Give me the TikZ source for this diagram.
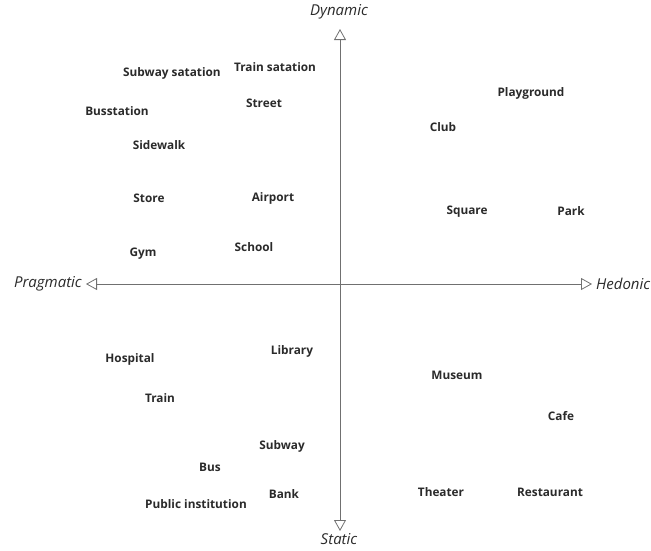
\documentclass[tikz,border=0pt]{standalone}
\usepackage{fontspec}
\setmainfont{Open Sans}
\usetikzlibrary{arrows.meta}
\definecolor{txt}{HTML}{2A2A2A}
\definecolor{axis}{HTML}{707070}
\tikzset{
  place/.style={font=\fontsize{11.8}{13}\selectfont\bfseries, text=txt, inner sep=0pt},
  axlabel/.style={font=\fontsize{15}{17}\selectfont\itshape, text=txt, inner sep=0pt},
  axisline/.style={draw=axis, line width=0.9pt, -{Triangle[open, length=11pt, width=12pt, line width=0.8pt]}}
}
\begin{document}
\begin{tikzpicture}[x=1pt,y=-1pt]
\useasboundingbox (0,0) rectangle (651,550);
\coordinate (c) at (340,284);
\coordinate (top) at (340,29);
\coordinate (bot) at (340,531);
\coordinate (lef) at (86,284);
\coordinate (rig) at (592,284);
\draw[axisline] (c) -- (top);
\draw[axisline] (c) -- (bot);
\draw[axisline] (c) -- (lef);
\draw[axisline] (c) -- (rig);
\node[axlabel] (dyn) at (339,12) {Dynamic};
\node[axlabel, anchor=base] (sta) at (339,544) {Static};
\node[axlabel, anchor=east] (pra) at (82,284) {Pragmatic};
\node[axlabel, anchor=west] (hed) at (596,284) {Hedonic};
\node[place] (n1) at (172,73) {Subway satation};
\node[place] (n2) at (275,67) {Train satation};
\node[place] (n3) at (117,111) {Busstation};
\node[place] (n4) at (264,103) {Street};
\node[place] (n5) at (159,145) {Sidewalk};
\node[place] (n6) at (531,93) {Playground};
\node[place] (n7) at (443,127) {Club};
\node[place] (n8) at (149,198) {Store};
\node[place] (n9) at (273,198) {Airport};
\node[place] (n10) at (467,212) {Square};
\node[place] (n11) at (571,211) {Park};
\node[place] (n12) at (143,254) {Gym};
\node[place] (n13) at (254,247) {School};
\node[place] (n14) at (130,359) {Hospital};
\node[place] (n15) at (292,351) {Library};
\node[place] (n16) at (457,375) {Museum};
\node[place] (n17) at (160,398) {Train};
\node[place] (n18) at (561,416) {Cafe};
\node[place] (n19) at (282,446) {Subway};
\node[place] (n20) at (210,467) {Bus};
\node[place] (n21) at (284,494) {Bank};
\node[place] (n22) at (196,504) {Public institution};
\node[place] (n23) at (441,492) {Theater};
\node[place] (n24) at (550,492) {Restaurant};
\end{tikzpicture}
\end{document}
